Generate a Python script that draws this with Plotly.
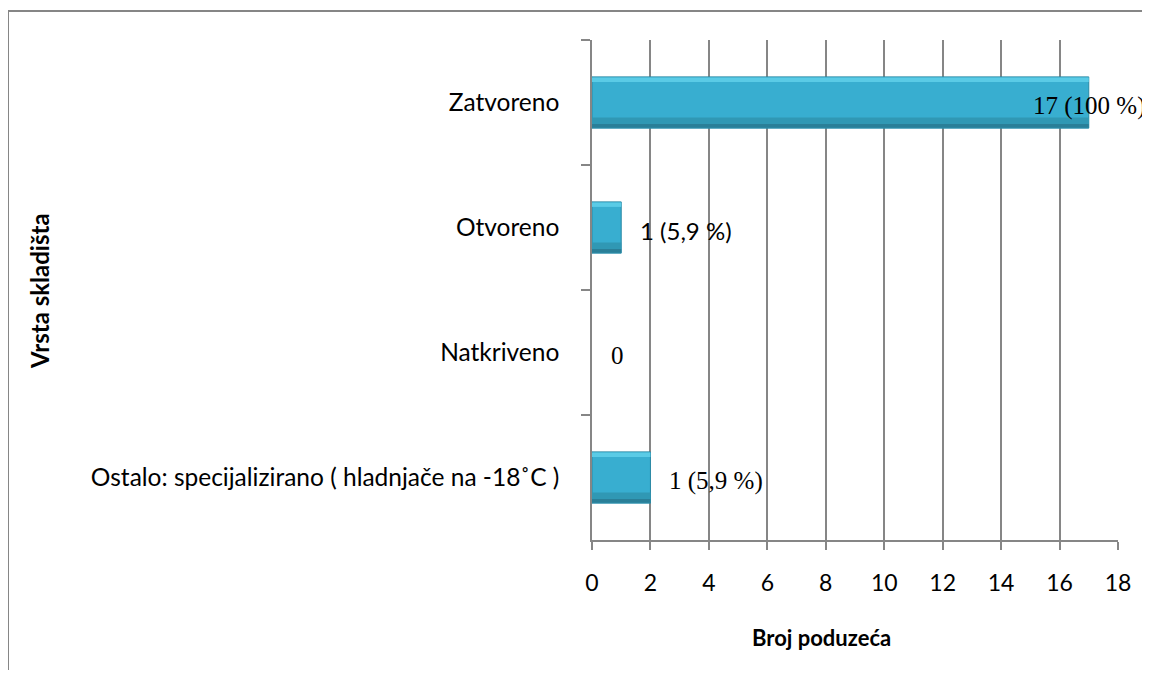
import plotly.graph_objects as go

# ---- data ----
categories = ["Zatvoreno", "Otvoreno", "Natkriveno",
              "Ostalo: specijalizirano ( hladnjače na -18˚C )"]
values = [17, 1, 0, 2]
value_labels = ["17 (100 %)", "1 (5,9 %)", "0", "1 (5,9 %)"]
x_ticks = [0, 2, 4, 6, 8, 10, 12, 14, 16, 18]

# ---- styles ----
SANS = "Lato, 'Open Sans', sans-serif"
SERIF = "'Liberation Serif', 'Times New Roman', serif"
GRAY = "#868686"
label_fonts = [SERIF, SANS, SERIF, SERIF]
label_shift = [-58, 17, 17, 17]

# page body has an 8px margin; figure is sized to fit in the 1150x678 window
W, H, OFF = 1142, 662, 8
PX0, PX1, PY0, PY1 = 592, 1118, 40, 540   # plot area in page pixels


def px(x):
    return (x - PX0) / (PX1 - PX0)


def py(y):
    return (PY1 - y) / (PY1 - PY0)


line_w = [1 if v > 0 else 0 for v in values]

fig = go.Figure()

# main bar body
fig.add_trace(go.Bar(
    x=values, y=categories, orientation="h", width=0.41,
    marker=dict(color="#38AED0", line=dict(color="#2A8AA6", width=line_w)),
    hoverinfo="x+y", showlegend=False))
# top highlight strip (bevel)
fig.add_trace(go.Bar(
    x=values, y=categories, orientation="h", width=0.035, offset=-0.2,
    marker=dict(color="#5ACBE6", line=dict(width=0)),
    hoverinfo="skip", showlegend=False))
# bottom shade strip (bevel)
fig.add_trace(go.Bar(
    x=values, y=categories, orientation="h", width=0.08, offset=0.12,
    marker=dict(color="#3098B4", line=dict(width=0)),
    hoverinfo="skip", showlegend=False))
fig.add_trace(go.Bar(
    x=values, y=categories, orientation="h", width=0.03, offset=0.172,
    marker=dict(color="#2A7F98", line=dict(width=0)),
    hoverinfo="skip", showlegend=False))

fig.update_layout(barmode="overlay")

annotations = []
for cat, v, txt, fnt, sh in zip(categories, values, value_labels, label_fonts, label_shift):
    annotations.append(dict(
        x=v, y=cat, xref="x", yref="y", text=txt, showarrow=False,
        xanchor="left", yanchor="middle", xshift=sh, yshift=-3,
        font=dict(family=fnt, size=25 if fnt == SERIF else 24, color="#000000")))

# axis titles
annotations.append(dict(
    x=px(821), y=py(637), xref="paper", yref="paper",
    text="<b>Broj poduzeća</b>", showarrow=False, xanchor="center", yanchor="middle",
    font=dict(family=SANS, size=22, color="#000000")))
annotations.append(dict(
    x=px(39), y=py(291), xref="paper", yref="paper",
    text="<b>Vrsta skladišta</b>", showarrow=False, textangle=-90,
    xanchor="center", yanchor="middle",
    font=dict(family=SANS, size=24, color="#000000")))

fig.update_layout(
    width=W, height=H,
    margin=dict(l=PX0 - OFF, r=W - (PX1 - OFF), t=PY0 - OFF, b=H - (PY1 - OFF), pad=0),
    paper_bgcolor="white", plot_bgcolor="white",
    annotations=annotations,
    xaxis=dict(
        range=[0, 18], tickvals=x_ticks, ticktext=[str(t) for t in x_ticks],
        showgrid=True, gridcolor=GRAY, gridwidth=1.5,
        showline=True, linecolor=GRAY, linewidth=1.5,
        ticks="outside", ticklen=8, tickcolor=GRAY, tickwidth=1.5,
        ticklabelstandoff=14,
        tickfont=dict(family=SANS, size=23, color="#000000"),
        zeroline=False, fixedrange=True),
    yaxis=dict(
        categoryorder="array", categoryarray=categories,
        range=[3.5, -0.5], tickson="boundaries",
        showgrid=False, showline=True, linecolor=GRAY, linewidth=1.5,
        ticks="outside", ticklen=9, tickcolor=GRAY, tickwidth=1.5,
        ticklabelstandoff=26,
        tickfont=dict(family=SANS, size=24.5, color="#000000"),
        zeroline=False, fixedrange=True),
    shapes=[dict(
        type="rect", xref="paper", yref="paper",
        x0=px(8), x1=px(1175), y0=py(700), y1=py(11),
        line=dict(color=GRAY, width=2), fillcolor="rgba(0,0,0,0)", layer="below")],
)

fig.write_html("out.html")
